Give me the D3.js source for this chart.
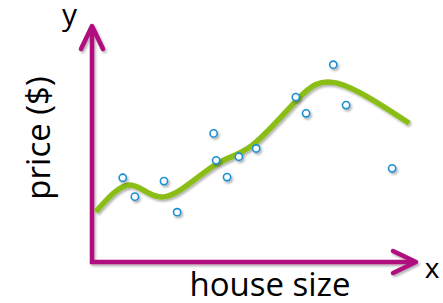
<!DOCTYPE html>
<html>
<head>
<meta charset="utf-8">
<script src="https://cdn.jsdelivr.net/npm/d3@7"></script>
<style>
	body { margin: 0; background: #fff; }
	text { font-family: "Open Sans", sans-serif; fill: #000; }
</style>
</head>
<body>
<div class="chart"></div>
<script>
(function (){

	// Observed samples (house size, price) in arbitrary 0-100 units
	var sizes = [9.6, 13.4, 22.5, 26.6, 38.0, 38.8, 42.2, 45.9, 51.3, 63.7, 66.9, 75.4, 79.4, 93.8];
	var prices = [35.7, 27.7, 34.3, 21.1, 54.5, 43.1, 36.0, 44.6, 48.1, 69.9, 63.0, 83.6, 66.5, 39.7];

	// Overfitted curve drawn through the points
	var fitX = [1.2, 11.9, 22.8, 37.8, 50.0, 64.0, 76.9, 99.1];
	var fitY = [21.3, 32.6, 27.7, 40.6, 49.4, 68.6, 75.7, 58.8];

	var axisLabels = { x: "x", y: "y", xTitle: "house size", yTitle: "price ($)" };

	var width = 443, height = 303;

	var xScale = d3.scaleLinear().domain([0, 100]).range([92, 412]);
	var yScale = d3.scaleLinear().domain([0, 100]).range([262, 26]);

	var svg = d3.select(".chart")
		.append("svg")
		.attr("width", width)
		.attr("height", height);

	// Soft drop shadow like the original slide
	var filter = svg.append("defs").append("filter")
		.attr("id", "shadow")
		.attr("x", "-20%").attr("y", "-20%")
		.attr("width", "140%").attr("height", "140%");
	filter.append("feDropShadow")
		.attr("dx", 1.5).attr("dy", 2)
		.attr("stdDeviation", 1.2)
		.attr("flood-color", "#000")
		.attr("flood-opacity", 0.3);

	var axisColor = "#b0087e";

	// Axes with arrow heads
	var axesG = svg.append("g").attr("filter", "url(#shadow)")
		.attr("fill", "none")
		.attr("stroke", axisColor)
		.attr("stroke-width", 4.5)
		.attr("stroke-linecap", "round")
		.attr("stroke-linejoin", "round");

	var x0 = xScale(0), y0 = yScale(0);
	var xEnd = xScale(100) + 4, yEnd = yScale(100);

	axesG.append("path")
		.attr("stroke-linecap", "butt")
		.attr("d", "M" + x0 + "," + (y0 + 2) + "V" + (yEnd + 2) + "M" + (x0 - 2) + "," + y0 + "H" + (xEnd - 2));
	axesG.append("path")
		.attr("d", "M" + (x0 - 11) + "," + (yEnd + 23) + "L" + x0 + "," + yEnd + "L" + (x0 + 11) + "," + (yEnd + 23));
	axesG.append("path")
		.attr("d", "M" + (xEnd - 23) + "," + (y0 - 11) + "L" + xEnd + "," + y0 + "L" + (xEnd - 23) + "," + (y0 + 11));

	// Fitted curve
	var line = d3.line()
		.x(function(d){ return xScale(d[0]); })
		.y(function(d){ return yScale(d[1]); })
		.curve(d3.curveNatural);

	svg.append("path")
		.datum(d3.zip(fitX, fitY))
		.attr("d", line)
		.attr("fill", "none")
		.attr("stroke", "#8abd15")
		.attr("stroke-width", 5.5)
		.attr("filter", "url(#shadow)");

	// Data points
	svg.append("g")
		.attr("filter", "url(#shadow)")
		.selectAll("circle")
		.data(d3.zip(sizes, prices))
		.enter()
		.append("circle")
		.attr("cx", function(d){ return xScale(d[0]); })
		.attr("cy", function(d){ return yScale(d[1]); })
		.attr("r", 3.6)
		.attr("fill", "#fff")
		.attr("stroke", "#1b8fd2")
		.attr("stroke-width", 1.6);

	// Labels
	svg.append("text")
		.attr("x", 69.5).attr("y", 25)
		.attr("text-anchor", "middle")
		.style("font-size", "30px")
		.text(axisLabels.y);

	svg.append("text")
		.attr("x", 432).attr("y", 278)
		.attr("text-anchor", "middle")
		.style("font-size", "28px")
		.text(axisLabels.x);

	svg.append("text")
		.attr("x", 270).attr("y", 296)
		.attr("text-anchor", "middle")
		.style("font-size", "33px")
		.text(axisLabels.xTitle);

	svg.append("text")
		.attr("text-anchor", "middle")
		.attr("transform", "translate(50,138) rotate(-90)")
		.style("font-size", "33px")
		.text(axisLabels.yTitle);
})();
</script>
</body>
</html>
